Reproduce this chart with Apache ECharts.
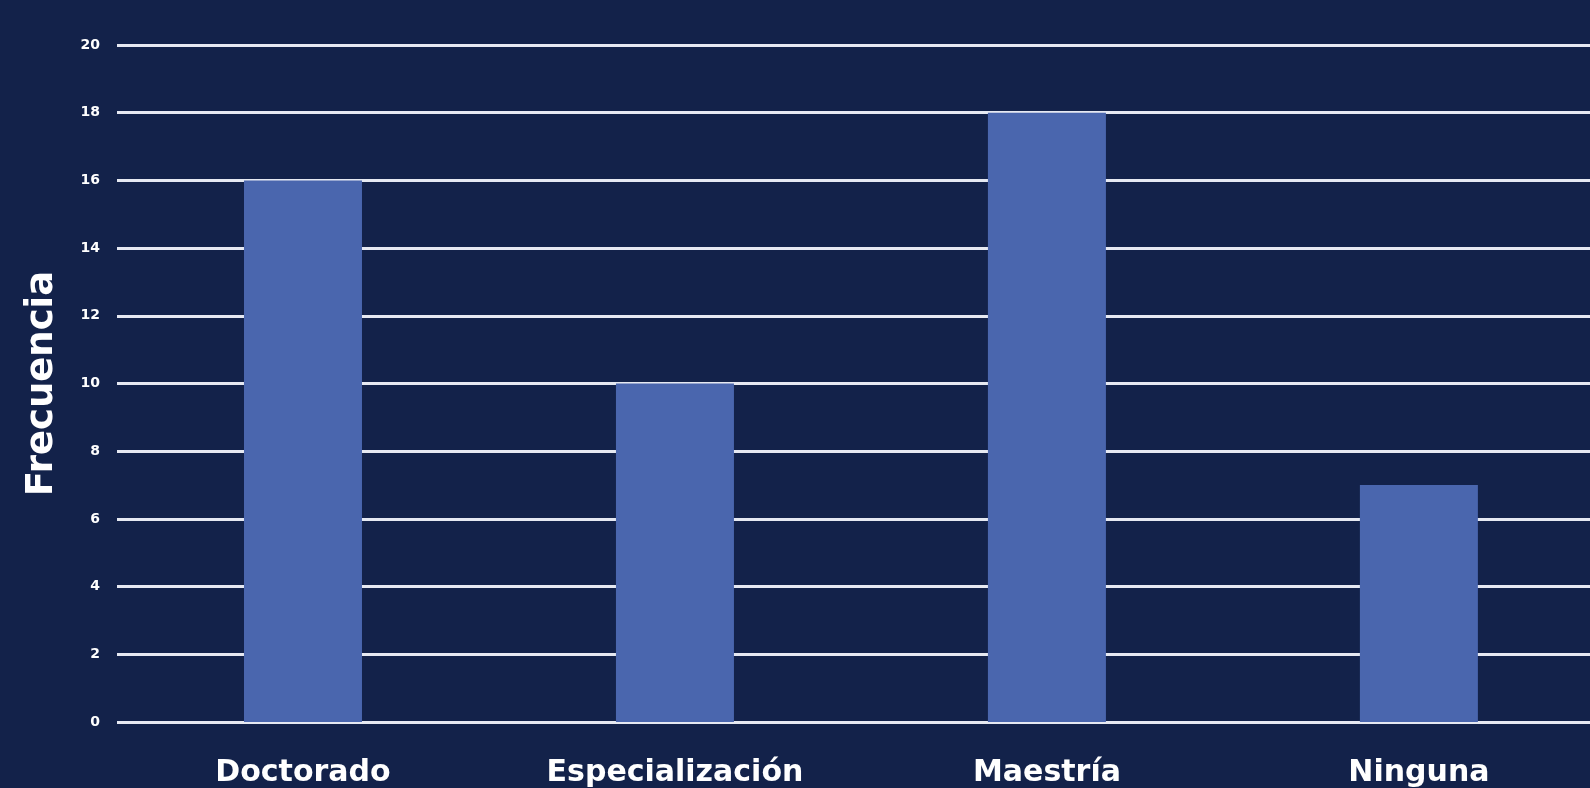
<!DOCTYPE html>
<html><head><meta charset="utf-8">
<script src="https://cdn.jsdelivr.net/npm/echarts@6/dist/echarts.min.js"></script>
<style>html,body{margin:0;padding:0;background:#13224a;}#c{width:1590px;height:788px;}</style>
</head><body><div id="c"></div>
<script>
const categories = ["Doctorado", "Especialización", "Maestría", "Ninguna"];
const frecuencia = [16, 10, 18, 7];
const yTicks = [0, 2, 4, 6, 8, 10, 12, 14, 16, 18, 20];

const barData = frecuencia.map((v, i) => [i, v]);
const catIdx = categories.map((c, i) => i);

const chart = echarts.init(document.getElementById('c'));
chart.setOption({
  backgroundColor: '#13224a',
  animation: false,
  grid: { left: 117, top: 45, bottom: 65, right: 0 },
  xAxis: {
    type: 'value',
    min: -0.5, max: 3.46,
    axisLine: { show: false },
    axisTick: { show: false },
    splitLine: { show: false },
    axisLabel: {
      customValues: catIdx,
      formatter: v => categories[Math.round(v)] || '',
      color: '#ffffff', fontFamily: 'DejaVu Sans', fontWeight: 'bold', fontSize: 30, margin: 36
    }
  },
  yAxis: {
    type: 'value',
    min: yTicks[0], max: yTicks[yTicks.length - 1], interval: 2,
    name: 'Frecuencia',
    nameLocation: 'middle',
    nameGap: 56,
    nameRotate: 90,
    nameTextStyle: { color: '#ffffff', fontFamily: 'DejaVu Sans', fontWeight: 'bold', fontSize: 37 },
    axisLine: { show: false },
    axisTick: { show: false },
    axisLabel: { color: '#ffffff', fontFamily: 'DejaVu Sans', fontWeight: 'bold', fontSize: 14, margin: 17 },
    splitLine: { lineStyle: { color: '#e6e9f2', width: 3 } }
  },
  series: [{
    type: 'bar',
    data: barData,
    barWidth: 118,
    itemStyle: { color: '#4a66ae' },
    z: 3
  }]
});
</script></body></html>
